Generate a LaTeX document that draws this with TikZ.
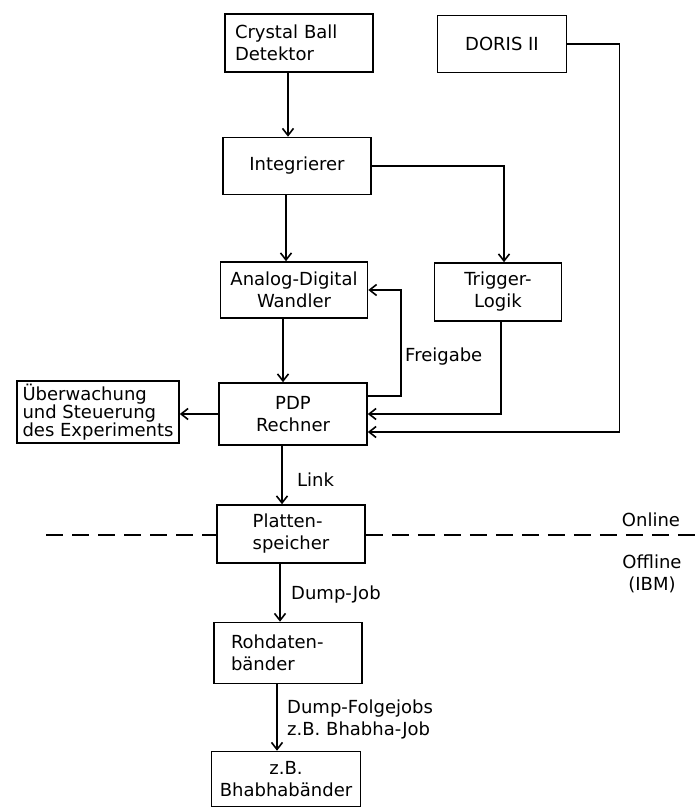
\documentclass[tikz,border=0pt]{standalone}
\usepackage{fontspec}
\setmainfont{DejaVu Sans}
\usetikzlibrary{positioning}
\usetikzlibrary{calc,arrows.meta}

\begin{document}
\begin{tikzpicture}
	[   x=1pt,y=-1pt,
	    blk/.style={draw=black,line width=1.6pt,minimum width=#1,minimum height=58pt,inner sep=3pt,align=center,font=\fontsize{18}{22}\selectfont},
	    blk/.default=148pt,
	    txt/.style={inner sep=0pt,font=\fontsize{18}{22}\selectfont},
	]
	\tikzset{normal arrow/.style={draw,line width=1.6pt,-{Straight Barb[length=7pt,width=11pt]}}}
	\tikzset{cut line/.style={draw,line width=1.3pt,dash pattern=on 17pt off 9pt}}
	\useasboundingbox (0,0) rectangle (700,808);
	
	\node[blk,align=left,text width=128pt] (cb) at (299,43) {Crystal Ball\\Detektor};
	\node[blk=129pt,minimum height=57pt] (doris) at (502,44) {DORIS II};
	
	\node[blk,minimum height=57pt] (integ) at (297,166) {Integrierer};
	
	\node[blk=147pt,minimum height=56pt] (ad) at (294,290) {Analog-Digital\\Wandler};
	\node[blk=127pt] (trig) at (498,292) {Trigger-\\Logik};
	
	\node[blk,minimum height=62pt] (pdp) at (293,414) {PDP\\Rechner};
	\node[blk=162pt,minimum height=62pt,inner ysep=1pt,align=left,font=\fontsize{18}{18}\selectfont] (ueb) at (98,412) {Überwachung\\und Steuerung\\des Experiments};
	
	\node[blk,align=left] (platten) at (291,534) {Platten-\\speicher};
	\node[blk,minimum height=61pt,align=left,text width=114pt] (roh) at (288,653) {Rohdaten-\\bänder};
	\node[blk=149pt,minimum height=55pt] (bhabha) at (286,779) {z.B.\\Bhabhabänder};
	
	% labels
	\node[txt,anchor=west] (freig) at (405,357) {Freigabe};
	\node[txt,anchor=west] (link) at (297,480) {Link};
	\node[txt,anchor=west] (dump) at (291,595) {Dump-Job};
	\node[txt,anchor=west,align=left] (folge) at (287,719) {Dump-Folgejobs\\z.B. Bhabha-Job};
	\node[txt] (on) at (651,520) {Online};
	\node[txt,align=center] (off) at (652,574) {Offline\\(IBM)};
	
	% main chain
	\foreach \a/\b in {cb/integ,integ/ad,ad/pdp,pdp/platten,platten/roh,roh/bhabha}
	{
		\path[normal arrow] ([xshift=-11pt]\a.south) -- ([xshift=-11pt]\a.south |- \b.north);
	}
	
	\path[normal arrow] (integ.east) -| ([xshift=6pt]trig.north);
	\path[normal arrow] ([xshift=3pt]trig.south) |- (pdp.east);
	\path[normal arrow] ([yshift=18pt]pdp.east) -- ++(33,0) |- (ad.east);
	\path[normal arrow] (doris.east) -- ++(52,0) |- ([yshift=-18pt]pdp.east);
	\path[normal arrow] (pdp.west) -- (pdp.west -| ueb.east);
	
	% online / offline
	\coordinate (dl) at (46,535);
	\coordinate (dr) at (700,535);
	\path[cut line] (dl) -- (dl -| platten.west);
	\path[cut line] (dr -| platten.east) -- (dr);
\end{tikzpicture}
\end{document}
